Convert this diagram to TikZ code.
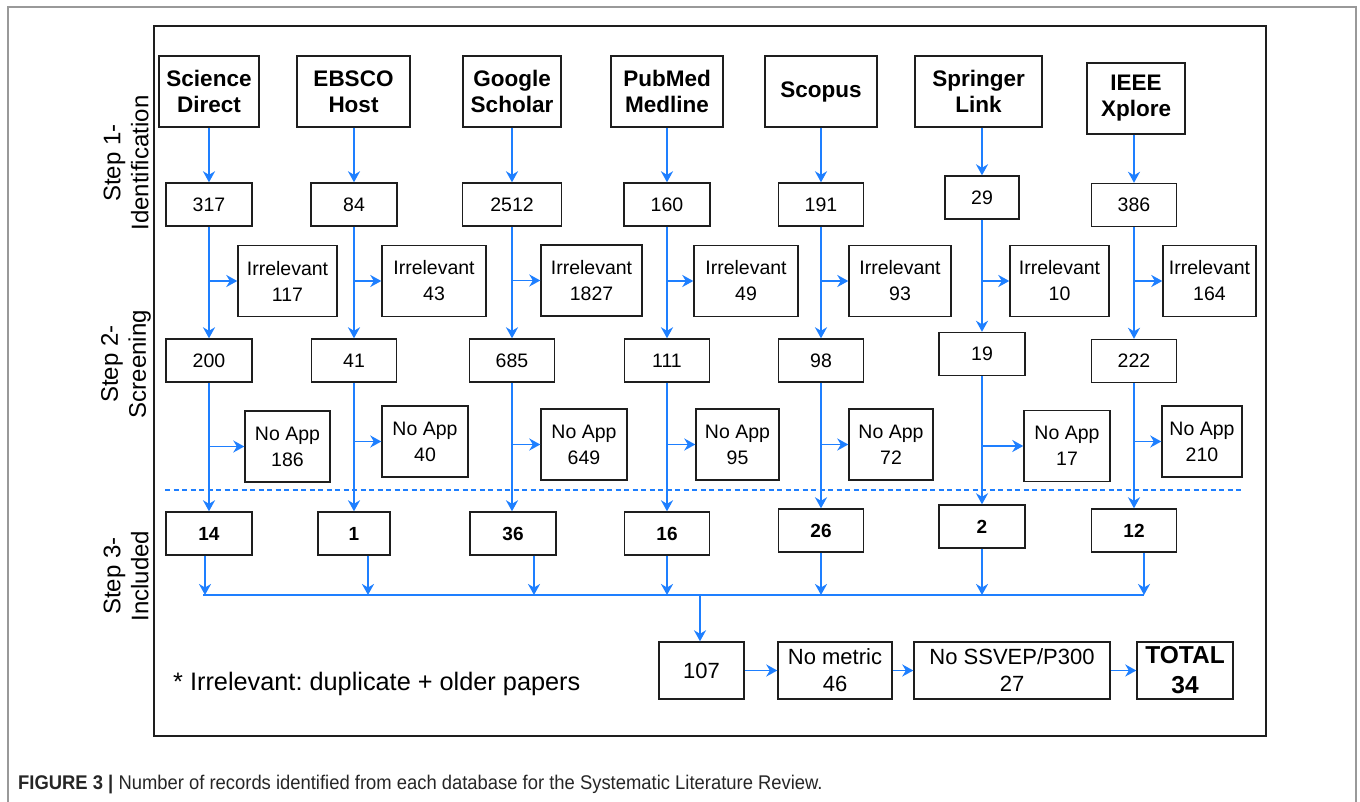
\documentclass[tikz,border=0pt]{standalone}
\usepackage{fontspec}
\setmainfont{Liberation Sans}
\newfontfamily\capfont[FakeStretch=0.93]{Liberation Sans}
\usetikzlibrary{arrows.meta}
\definecolor{flow}{RGB}{30,127,255}
\definecolor{boxline}{RGB}{30,30,30}
\frenchspacing
\tikzset{
  box/.style={draw=boxline, line width=1.4pt, fill=white, inner sep=0pt, align=center},
  hdr/.style={box, minimum height=71pt, font=\fontsize{22.5}{26}\selectfont\bfseries},
  cnt/.style={box, minimum height=43pt, font=\fontsize{19.5}{26}\selectfont},
  side/.style={box, minimum height=71pt, font=\fontsize{19.5}{26}\selectfont},
  inc/.style={box, minimum height=43pt, font=\fontsize{19}{26}\selectfont\bfseries},
  fin/.style={box, minimum height=57pt, font=\fontsize{22}{27}\selectfont},
  stage/.style={rotate=90, align=center, font=\fontsize{24}{28}\selectfont},
  flowline/.style={draw=flow, line width=1.9pt},
  arr/.style={flowline, -{Stealth[length=11pt,width=12pt,inset=3.5pt]}},
  dashline/.style={draw=flow, line width=1.4pt, dash pattern=on 5pt off 3.5pt},
}
\begin{document}
\begin{tikzpicture}[x=1pt,y=-1pt]
\useasboundingbox (0,0) rectangle (1360,801);
% frames
\draw[draw=gray!80, line width=1.5pt] (8,806) -- (8,7) -- (1356,7) -- (1356,806);
\draw[draw=boxline, line width=1.3pt] (154,26) rectangle (1266,736);

% stage labels
\node[stage] (s1) at (126,163) {Step 1-\\Identification};
\node[stage] (s2) at (126,364) {Step 2-\\Screening};
\node[stage] (s3) at (126,576) {Step 3-\\Included};

% headers
\node[hdr, minimum width=100pt] (h1) at (209,91.5) {Science\\Direct};
\node[hdr, minimum width=113pt] (h2) at (353.5,91.5) {EBSCO\\Host};
\node[hdr, minimum width=98pt] (h3) at (512,91.5) {Google\\Scholar};
\node[hdr, minimum width=112pt] (h4) at (667,91.5) {PubMed\\Medline};
\node[hdr, minimum width=112pt] (h5) at (821,91.5) {Scopus};
\node[hdr, minimum width=127pt] (h6) at (978.5,91.5) {Springer\\Link};
\node[hdr, minimum width=98pt] (h7) at (1136,98.5) {IEEE\\Xplore};

% identification counts
\node[cnt, minimum width=86pt] (a1) at (209,204.5) {317};
\node[cnt, minimum width=86pt] (a2) at (354,204.5) {84};
\node[cnt, minimum width=99pt] (a3) at (512,204.5) {2512};
\node[cnt, minimum width=86pt] (a4) at (667,204.5) {160};
\node[cnt, minimum width=85pt] (a5) at (821,204.5) {191};
\node[cnt, minimum width=74pt] (a6) at (982,197.5) {29};
\node[cnt, minimum width=85pt] (a7) at (1134,205) {386};

% irrelevant
\node[side, minimum width=99pt] (i1) at (287.5,281) {Irrelevant\\117};
\node[side, minimum width=104pt] (i2) at (434,281) {Irrelevant\\43};
\node[side, minimum width=101pt] (i3) at (591.5,280.5) {Irrelevant\\1827};
\node[side, minimum width=104pt] (i4) at (746,281) {Irrelevant\\49};
\node[side, minimum width=102pt] (i5) at (900,281) {Irrelevant\\93};
\node[side, minimum width=99pt] (i6) at (1059.5,281) {Irrelevant\\10};
\node[side, minimum width=93pt] (i7) at (1209.5,281) {Irrelevant\\164};

% screening counts
\node[cnt, minimum width=86pt] (b1) at (209,360.5) {200};
\node[cnt, minimum width=85pt] (b2) at (354,360.5) {41};
\node[cnt, minimum width=85pt] (b3) at (512,360.5) {685};
\node[cnt, minimum width=85pt] (b4) at (667,360.5) {111};
\node[cnt, minimum width=85pt] (b5) at (821,360.5) {98};
\node[cnt, minimum width=86pt] (b6) at (982,354) {19};
\node[cnt, minimum width=85pt] (b7) at (1134,361) {222};

% no app
\node[side, minimum width=85pt] (n1) at (287.5,446.5) {No App\\186};
\node[side, minimum width=86pt] (n2) at (425,441.5) {No App\\40};
\node[side, minimum width=86pt] (n3) at (584,444.5) {No App\\649};
\node[side, minimum width=83pt] (n4) at (737.5,444.5) {No App\\95};
\node[side, minimum width=84pt] (n5) at (891,444.5) {No App\\72};
\node[side, minimum width=86pt] (n6) at (1067,446) {No App\\17};
\node[side, minimum width=80pt] (n7) at (1202,441.5) {No App\\210};

% dashed separator
\coordinate (dL) at (165,490);
\coordinate (dR) at (1242,490);
\draw[dashline] (dL) -- (dR);

% included
\node[inc, minimum width=86pt] (c1) at (209,533.5) {14};
\node[inc, minimum width=72pt] (c2) at (354,533.5) {1};
\node[inc, minimum width=86pt] (c3) at (513,533.5) {36};
\node[inc, minimum width=85pt] (c4) at (667,533.5) {16};
\node[inc, minimum width=85pt] (c5) at (821,530.5) {26};
\node[inc, minimum width=86pt] (c6) at (982,526.5) {2};
\node[inc, minimum width=85pt] (c7) at (1134,530.5) {12};

% final row
\node[fin, minimum width=85pt] (r1) at (701.5,670.5) {107};
\node[fin, minimum width=114pt] (r2) at (835,670.5) {No metric\\46};
\node[fin, minimum width=196pt] (r3) at (1012,670.5) {No SSVEP/P300\\27};
\node[box, minimum width=96pt, minimum height=57pt, font=\fontsize{24.5}{30}\selectfont\bfseries] (r4) at (1185,670.5) {TOTAL\\34};

% footnote
\node[anchor=base west, inner sep=0pt, font=\fontsize{25.3}{28}\selectfont] (note) at (173,690) {* Irrelevant: duplicate + older papers};

% caption
\node[anchor=base west, inner sep=0pt, text=black!85, font=\fontsize{19.8}{22}\capfont] (cap) at (18,789) {\textbf{FIGURE 3} \textbf{|} Number of records identified from each database for the Systematic Literature Review.};

% arrows: headers to counts
\foreach \k in {1,...,7}{
  \draw[arr] (h\k.south -| a\k) -- (a\k.north);
  \draw[arr] (a\k.south) -- (a\k |- b\k.north);
  \draw[arr] (a\k |- i\k.west) -- (i\k.west);
  \draw[arr] (b\k.south) -- (b\k |- c\k.north);
  \draw[arr] (b\k |- n\k.west) -- (n\k.west);
}

% collector
\coordinate (k1) at (205,595);
\coordinate (k2) at (368,595);
\coordinate (k3) at (534,595);
\coordinate (k4) at (667,595);
\coordinate (k5) at (821,595);
\coordinate (k6) at (982,595);
\coordinate (k7) at (1144,595);
\coordinate (kL) at (203,595);
\coordinate (k0) at (700,595);
\draw[flowline] (kL) -- (k7);
\foreach \k in {1,...,7}{
  \draw[arr] (c\k.south -| k\k) -- (k\k);
}
\draw[arr] (k0) -- (k0 |- r1.north);
\draw[arr] (r1) -- (r2);
\draw[arr] (r2) -- (r3);
\draw[arr] (r3) -- (r4);
\end{tikzpicture}
\end{document}
